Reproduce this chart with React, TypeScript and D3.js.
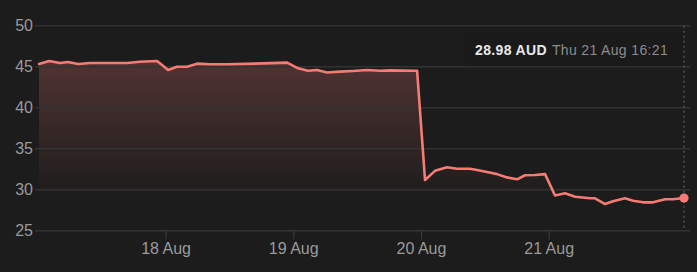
import React from "react";
import * as d3 from "d3";

// Time as fractional day of August (UTC), price in AUD
const times: number[] = [
  17.005, 17.084, 17.17, 17.233, 17.311, 17.405, 17.561, 17.695, 17.796, 17.93,
  18.016, 18.086, 18.164, 18.243, 18.345, 18.478, 18.76, 18.948, 19.034, 19.112,
  19.182, 19.261, 19.363, 19.464, 19.574, 19.676, 19.754, 19.95, 19.966, 20.028,
  20.106, 20.2, 20.279, 20.381, 20.435, 20.514, 20.592, 20.67, 20.749, 20.811,
  20.89, 20.968, 21.046, 21.124, 21.203, 21.32, 21.359, 21.438, 21.5, 21.594,
  21.657, 21.735, 21.814, 21.908, 21.97, 22.056,
];
const prices: number[] = [
  45.33, 45.7, 45.45, 45.57, 45.33, 45.45, 45.45, 45.45, 45.6, 45.7,
  44.6, 45.0, 45.0, 45.37, 45.3, 45.3, 45.4, 45.5, 44.8, 44.5,
  44.6, 44.3, 44.4, 44.48, 44.6, 44.5, 44.55, 44.5, 44.5, 31.18,
  32.3, 32.73, 32.56, 32.56, 32.4, 32.16, 31.9, 31.5, 31.27, 31.76,
  31.8, 31.9, 29.3, 29.56, 29.15, 28.95, 28.95, 28.25, 28.6, 28.95,
  28.66, 28.46, 28.46, 28.83, 28.83, 28.98,
];
const yTicks: number[] = [25, 30, 35, 40, 45, 50];
const xTickDays: number[] = [18, 19, 20, 21];
const xTickLabels: string[] = ["18 Aug", "19 Aug", "20 Aug", "21 Aug"];
const tooltipValue = "28.98 AUD";
const tooltipDate = "Thu 21 Aug 16:21";

const W = 697;
const H = 272;
const BG = "#1c1c1c";
const LINE = "#f47c74";
const FONT = "'Liberation Sans', Arial, Helvetica, sans-serif";

export default function App() {
  const data = times.map((t, i) => ({ t, v: prices[i] }));
  const x = d3.scaleLinear().domain([times[0], times[times.length - 1]]).range([39, 684]);
  const y = d3.scaleLinear().domain([25, 50]).range([230.7, 25.7]);

  const line = d3
    .line<{ t: number; v: number }>()
    .x((d) => x(d.t))
    .y((d) => y(d.v));
  const area = d3
    .area<{ t: number; v: number }>()
    .x((d) => x(d.t))
    .y0(y(25))
    .y1((d) => y(d.v));

  const last = data[data.length - 1];
  const lx = x(last.t);

  return (
    <svg
      width={W}
      height={H}
      style={{ position: "absolute", left: 0, top: 0, display: "block" }}
      fontFamily={FONT}
    >
      <defs>
        <linearGradient id="fillGrad" gradientUnits="userSpaceOnUse" x1={0} y1={60} x2={0} y2={200}>
          <stop offset="0" stopColor={LINE} stopOpacity={0.24} />
          <stop offset="1" stopColor={LINE} stopOpacity={0} />
        </linearGradient>
      </defs>
      <rect x={0} y={0} width={W} height={H} fill={BG} />

      <path d={area(data) || ""} fill="url(#fillGrad)" />

      {yTicks.map((t) => (
        <g key={t}>
          <line x1={35} x2={690} y1={y(t)} y2={y(t)} stroke="#323232" strokeWidth={1.5} />
          <text
            x={33}
            y={y(t)}
            dy="0.36em"
            textAnchor="end"
            fontSize={16}
            fill="#9a9a9a"
          >
            {t}
          </text>
        </g>
      ))}

      {xTickDays.map((d, i) => (
        <g key={d}>
          <line x1={x(d)} x2={x(d)} y1={y(25)} y2={y(25) + 8.5} stroke="#3a3a3a" strokeWidth={1.2} />
          <text x={x(d)} y={254.3} textAnchor="middle" fontSize={16} fill="#9a9a9a">
            {xTickLabels[i]}
          </text>
        </g>
      ))}

      <line
        x1={lx}
        x2={lx}
        y1={y(50)}
        y2={y(25)}
        stroke="#6a6a6a"
        strokeWidth={1}
        strokeDasharray="2,3"
      />

      <path
        d={line(data) || ""}
        fill="none"
        stroke={LINE}
        strokeWidth={2.6}
        strokeLinejoin="round"
        strokeLinecap="round"
      />
      <circle cx={lx} cy={y(last.v)} r={4.6} fill={LINE} />

      <g>
        <rect x={465} y={32.7} width={218} height={33.5} fill="#1a1a1a" />
        <text x={475} y={55} fontSize={14} fontWeight="bold" fill="#e8e8e8" letterSpacing={0.35}>
          {tooltipValue}
          <tspan dx={5} fontWeight="normal" fill="#8c8c8c">
            {tooltipDate}
          </tspan>
        </text>
      </g>
    </svg>
  );
}
